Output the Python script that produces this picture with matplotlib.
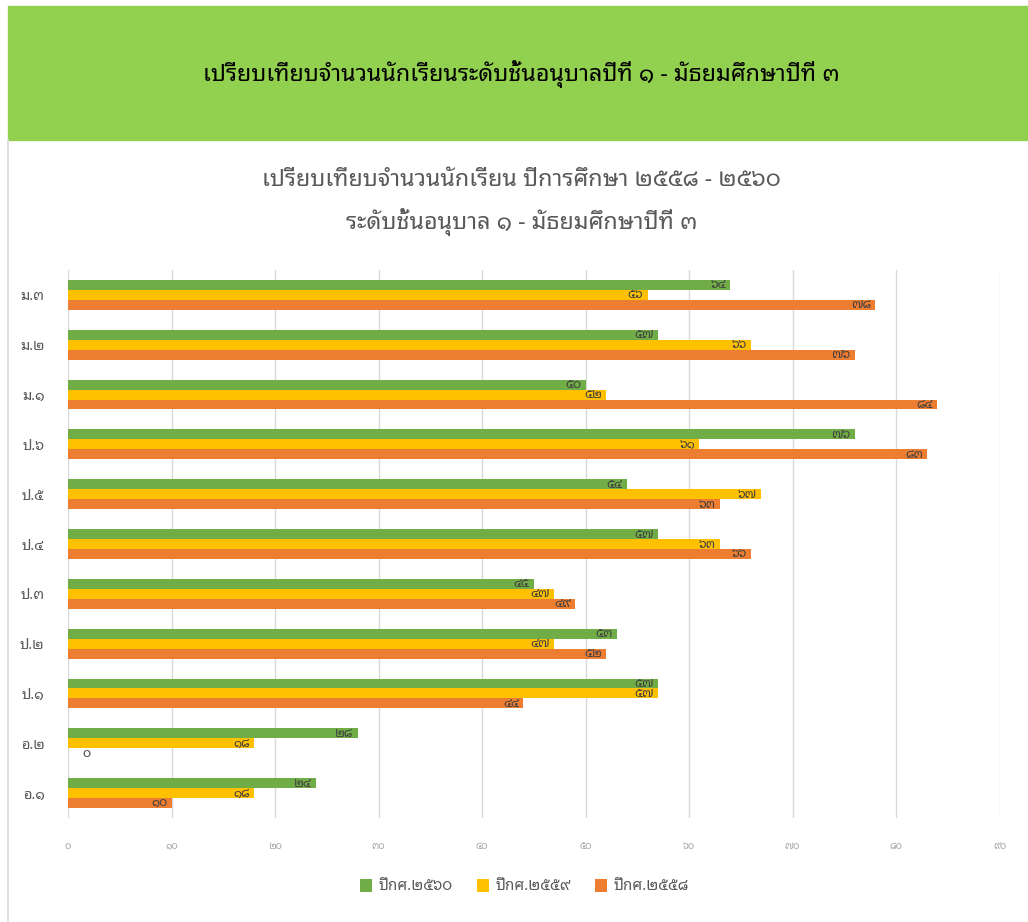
import matplotlib
matplotlib.use("Agg")
import matplotlib.pyplot as plt
from matplotlib.patches import Rectangle
from matplotlib.lines import Line2D
import numpy as np

plt.rcParams['font.family'] = ['Noto Sans Thai Looped', 'DejaVu Sans']

# data, bottom to top
grades = ["อ.๑", "อ.๒", "ป.๑", "ป.๒", "ป.๓", "ป.๔", "ป.๕", "ป.๖", "ม.๑", "ม.๒", "ม.๓"]
y2560 = [24, 28, 57, 53, 45, 57, 54, 76, 50, 57, 64]
y2559 = [18, 18, 57, 47, 47, 63, 67, 61, 52, 66, 56]
y2558 = [10, 0, 44, 52, 49, 66, 63, 83, 84, 76, 78]
series_names = ["ปีกศ.๒๕๖๐", "ปีกศ.๒๕๕๙", "ปีกศ.๒๕๕๘"]
colors = ["#70AD47", "#FFC000", "#ED7D31"]
xticks = list(range(0, 100, 10))

thai_digits = str.maketrans("0123456789", "๐๑๒๓๔๕๖๗๘๙")


def th(n):
    return str(n).translate(thai_digits)


fig = plt.figure(figsize=(10.28, 9.22), dpi=100)

# green header band
fig.patches.append(Rectangle((8 / 1028, 1 - 140 / 922), 1 - 8 / 1028, 134 / 922,
                             transform=fig.transFigure, color="#92D050", zorder=0))
fig.text(0.507, 1 - 74 / 922, "เปรียบเทียบจำนวนนักเรียนระดับชั้นอนุบาลปีที่ ๑ - มัธยมศึกษาปีที่ ๓",
         ha="center", va="center", fontsize=16.8, fontweight="bold", color="black")
# chart frame line on the left
fig.lines.append(Line2D([8 / 1028, 8 / 1028], [0, 1 - 140 / 922], transform=fig.transFigure,
                        color="#d9d9d9", lw=1.2))

fig.text(0.507, 1 - 180 / 922, "เปรียบเทียบจำนวนนักเรียน ปีการศึกษา ๒๕๕๘ - ๒๕๖๐",
         ha="center", va="center", fontsize=16.8, color="#595959")
fig.text(0.507, 1 - 222 / 922, "ระดับชั้นอนุบาล ๑ - มัธยมศึกษาปีที่ ๓",
         ha="center", va="center", fontsize=16.8, color="#595959")

ax = fig.add_axes([68 / 1028, 1 - 818 / 922, (999.5 - 68) / 1028, (818 - 270) / 922])
y = np.arange(len(grades))
h = 0.2
for vals, off, col, name in zip([y2560, y2559, y2558], [h, 0, -h], colors, series_names):
    bars = ax.barh(y + off, vals, height=h, color=col, label=name, zorder=2)
    for b, v in zip(bars, vals):
        cy = b.get_y() + b.get_height() / 2
        if v > 0:
            ax.annotate(th(v), (v, cy), xytext=(-3, 0), textcoords="offset points",
                        ha="right", va="center", fontsize=9, color="#404040")
        else:
            ax.annotate(th(v), (0, cy), xytext=(10, 0), textcoords="offset points",
                        ha="left", va="center", fontsize=9, color="#404040")

ax.set_xlim(0, 90)
ax.set_ylim(-0.5, len(grades) - 0.5)
ax.set_xticks(xticks)
ax.set_xticklabels([th(t) for t in xticks], fontsize=7, color="#a6a6a6")
ax.set_yticks(y)
ax.set_yticklabels(grades, fontsize=10.5, color="#595959")
ax.tick_params(axis="x", length=0, pad=17)
ax.tick_params(axis="y", length=0, pad=17)
ax.grid(axis="x", color="#d9d9d9", lw=1, zorder=0)
for s in ax.spines.values():
    s.set_visible(False)

fig.legend(loc="center", bbox_to_anchor=(0.51, 1 - 887 / 922), ncol=3, frameon=False,
           fontsize=11, handlelength=0.8, handleheight=0.9, columnspacing=1.6,
           handletextpad=0.4, labelcolor="#595959")

fig.savefig("out.png")
